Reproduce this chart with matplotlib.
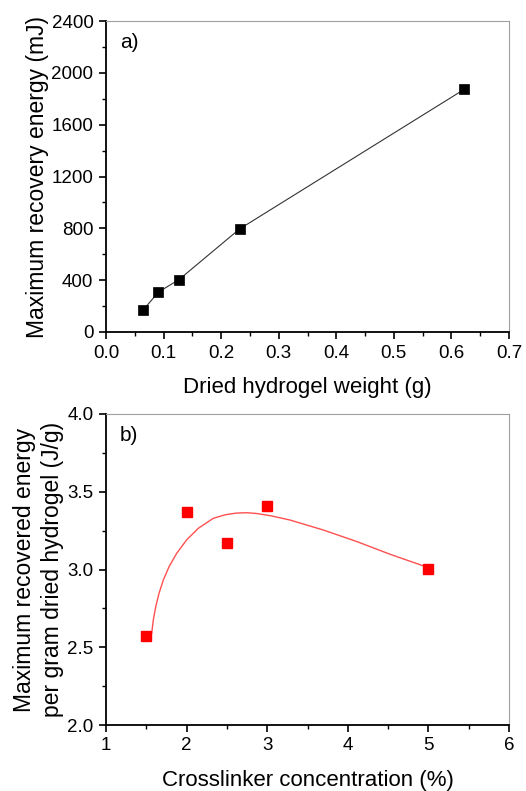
import matplotlib
matplotlib.use("Agg")
import matplotlib.pyplot as plt
from matplotlib.ticker import MultipleLocator

plt.rcParams['font.family'] = ['Liberation Sans', 'DejaVu Sans']

# panel a) data
weight = [0.065, 0.091, 0.127, 0.232, 0.622]
energy = [172, 308, 405, 795, 1872]

# panel b) data
crosslinker = [1.5, 2.0, 2.5, 3.0, 5.0]
energy_per_g = [2.575, 3.372, 3.168, 3.408, 3.005]

# fitted curve in panel b)
fit_x = [1.567, 1.587, 1.617, 1.658, 1.711, 1.782, 1.877, 2.0, 2.145, 2.331,
         2.48, 2.62, 2.75, 2.87, 3.05, 3.283, 3.696, 4.11, 4.524, 5.0]
fit_y = [2.590, 2.675, 2.761, 2.847, 2.932, 3.018, 3.104, 3.190, 3.265, 3.329,
         3.352, 3.363, 3.365, 3.360, 3.345, 3.318, 3.254, 3.180, 3.098, 3.012]

W, H = 526, 791
fig = plt.figure(figsize=(W / 100, H / 100), dpi=100)
ax1 = fig.add_axes([106 / W, (H - 332) / H, 403 / W, 311 / H])
ax2 = fig.add_axes([106 / W, (H - 725) / H, 403 / W, 311 / H])


def style(ax):
    for s in ['left', 'bottom']:
        ax.spines[s].set_linewidth(1.3)
        ax.spines[s].set_color('black')
    for s in ['top', 'right']:
        ax.spines[s].set_linewidth(0.8)
        ax.spines[s].set_color('#a0a0a0')
    ax.tick_params(which='major', direction='out', length=5, width=1.2,
                   labelsize=13.5, pad=4)
    ax.tick_params(which='minor', direction='out', length=3, width=1.0)
    ax.tick_params(which='both', top=False, right=False)


# a)
ax1.plot(weight, energy, color='#333333', lw=0.8, marker='s', ms=6.5,
         mfc='black', mec='black', mew=0.5)
ax1.set_xlim(0, 0.7)
ax1.set_ylim(0, 2400)
ax1.xaxis.set_major_locator(MultipleLocator(0.1))
ax1.xaxis.set_minor_locator(MultipleLocator(0.05))
ax1.yaxis.set_major_locator(MultipleLocator(400))
ax1.yaxis.set_minor_locator(MultipleLocator(200))
ax1.xaxis.set_major_formatter(plt.FormatStrFormatter('%.1f'))
style(ax1)
ax1.set_xlabel('Dried hydrogel weight (g)', fontsize=16, labelpad=11)
ax1.set_ylabel('Maximum recovery energy (mJ)', fontsize=16.5, labelpad=2)
ax1.text(0.035, 0.96, 'a)', transform=ax1.transAxes, fontsize=15,
         ha='left', va='top')

# b)
ax2.plot(fit_x, fit_y, color='#ff5050', lw=1.0)
ax2.plot(crosslinker, energy_per_g, ls='none', marker='s', ms=6.5,
         mfc='#ff0000', mec='#ff0000')
ax2.set_xlim(1, 6)
ax2.set_ylim(2.0, 4.0)
ax2.xaxis.set_major_locator(MultipleLocator(1))
ax2.xaxis.set_minor_locator(MultipleLocator(0.5))
ax2.yaxis.set_major_locator(MultipleLocator(0.5))
ax2.yaxis.set_minor_locator(MultipleLocator(0.25))
ax2.yaxis.set_major_formatter(plt.FormatStrFormatter('%.1f'))
style(ax2)
ax2.set_xlabel('Crosslinker concentration (%)', fontsize=16, labelpad=11)
ax2.set_ylabel('Maximum recovered energy\nper gram dried hydrogel (J/g)',
               fontsize=16.5, labelpad=2, linespacing=1.3)
ax2.text(0.035, 0.96, 'b)', transform=ax2.transAxes, fontsize=15,
         ha='left', va='top')

fig.savefig('out.png', dpi=100)
